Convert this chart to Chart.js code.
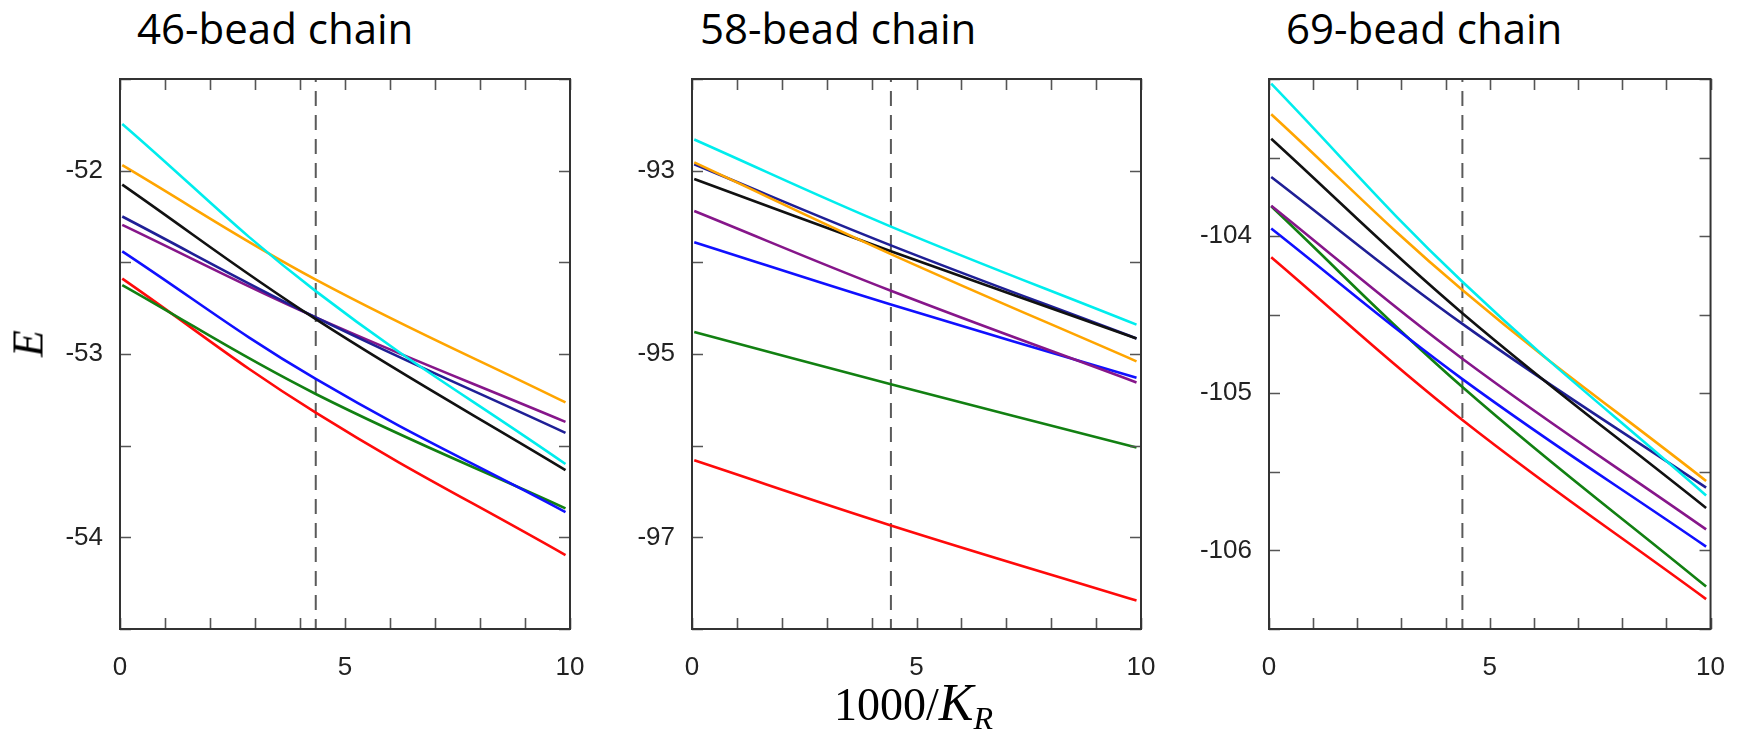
<!DOCTYPE html>
<html>
<head>
<meta charset="utf-8">
<script src="https://cdn.jsdelivr.net/npm/chart.js@4.4.0/dist/chart.umd.min.js"></script>
<style>
  body { margin: 0; background: #fff; }
  #fig { position: relative; width: 1740px; height: 734px; overflow: hidden; background: #fff; }
  #fig canvas { position: absolute; top: 0; }
  .title { position: absolute; top: -1px; font-family: "Open Sans", sans-serif; font-size: 42px; color: #000; white-space: nowrap; }
  #xlab { position: absolute; left: 834px; top: 673px; font-family: "Liberation Serif", serif; font-size: 46px; color: #000; white-space: nowrap; }
  #xlab i { font-size: 52px; }
  #xlab sub { font-size: 32px; font-style: italic; vertical-align: -9px; }
  #ylab { position: absolute; left: 6px; top: 318px; width: 44px; text-align: center; font-family: "Liberation Serif", serif; font-style: italic; font-size: 44px; transform: rotate(-90deg); }
</style>
</head>
<body>
<div id="fig">
  <div class="title" style="left:137px">46-bead chain</div>
  <div class="title" style="left:700px">58-bead chain</div>
  <div class="title" style="left:1286px">69-bead chain</div>
  <canvas id="c1" width="600" height="734" style="left:0px"></canvas>
  <canvas id="c2" width="580" height="734" style="left:600px"></canvas>
  <canvas id="c3" width="560" height="734" style="left:1180px"></canvas>
  <div id="xlab">1000/<i>K</i><sub>R</sub></div>
  <div id="ylab">E</div>
</div>
<script>
// series order: cyan, orange, black, navy, purple, blue, green, red
const seriesNames = ["cyan", "orange", "black", "navy", "purple", "blue", "green", "red"];
const seriesColors = ["#00eded", "#ffa500", "#111111", "#1f1f96", "#86168a", "#1010ff", "#128012", "#ff0a0a"];

// x positions (1000/K_R) where values were read: start, dashed line, end
const xs46 = [0.05, 4.35, 9.9];
const xs58 = [0.05, 4.43, 9.9];
const xs69 = [0.05, 4.38, 9.9];

// 46-bead chain
const e46 = {
  cyan:   [-51.745, -52.657, -53.600],
  orange: [-51.97, -52.594, -53.264],
  black:  [-52.076, -52.81, -53.633],
  navy:   [-52.25, -52.80, -53.43],
  purple: [-52.296, -52.80, -53.37],
  blue:   [-52.44, -53.136, -53.862],
  green:  [-52.624, -53.218, -53.842],
  red:    [-52.589, -53.32, -54.097]
};

// 58-bead chain
const e58 = {
  cyan:   [-92.66, -93.61, -94.68],
  orange: [-92.91, -93.91, -95.08],
  black:  [-93.09, -93.88, -94.83],
  navy:   [-92.93, -93.815, -94.83],
  purple: [-93.44, -94.31, -95.31],
  blue:   [-93.78, -94.46, -95.26],
  green:  [-94.76, -95.33, -96.02],
  red:    [-96.16, -96.87, -97.69]
};

// 69-bead chain
const e69 = {
  cyan:   [-103.03, -104.29, -105.65],
  orange: [-103.224, -104.343, -105.558],
  black:  [-103.38, -104.49, -105.73],
  navy:   [-103.624, -104.558, -105.60],
  purple: [-103.806, -104.78, -105.866],
  blue:   [-103.952, -104.91, -105.976],
  green:  [-103.81, -104.96, -106.23],
  red:    [-104.134, -105.17, -106.31]
};

// dashed marker position
const markX = [4.35, 4.43, 4.38];

// axis ranges / tick steps
const yMin = [-54.5, -98, -106.5];
const yMax = [-51.5, -92, -103];
const yStep = [0.5, 1, 0.5];

const tickFont = { family: "Liberation Sans, Arial, sans-serif", size: 26 };

// inward ticks on all four sides plus the box
const frameTicks = {
  id: "frameTicks",
  afterDatasetsDraw(chart) {
    const { ctx, chartArea: a, scales: { x, y } } = chart;
    ctx.save();
    ctx.strokeStyle = "#555";
    ctx.lineWidth = 1.6;
    ctx.beginPath();
    x.ticks.forEach((t) => {
      const px = Math.round(x.getPixelForValue(t.value)) + 0.5;
      ctx.moveTo(px, a.bottom); ctx.lineTo(px, a.bottom - 11);
      ctx.moveTo(px, a.top); ctx.lineTo(px, a.top + 11);
    });
    y.ticks.forEach((t) => {
      const py = Math.round(y.getPixelForValue(t.value)) + 0.5;
      ctx.moveTo(a.left, py); ctx.lineTo(a.left + 11, py);
      ctx.moveTo(a.right, py); ctx.lineTo(a.right - 11, py);
    });
    ctx.stroke();
    ctx.strokeStyle = "#333";
    ctx.lineWidth = 2;
    ctx.strokeRect(a.left, a.top, a.right - a.left, a.bottom - a.top);
    ctx.restore();
  }
};

function makePanel(id, xs, vals, i, leftW, rightPad, labelFn) {
  const datasets = seriesNames.map((name, k) => ({
    data: xs.map((x, j) => ({ x: x, y: vals[name][j] })),
    borderColor: seriesColors[k],
    borderWidth: 2.6,
    pointRadius: 0,
    tension: 0.4,
    fill: false
  }));
  datasets.push({
    data: [{ x: markX[i], y: yMax[i] }, { x: markX[i], y: yMin[i] }],
    borderColor: "#5a5a5a",
    borderWidth: 2,
    borderDash: [15, 9],
    borderDashOffset: -12,
    pointRadius: 0
  });

  new Chart(document.getElementById(id), {
    type: "line",
    data: { datasets },
    plugins: [frameTicks],
    options: {
      responsive: false,
      animation: false,
      devicePixelRatio: 1,
      layout: { padding: { top: 79, right: rightPad, left: 0, bottom: 0 } },
      plugins: { legend: { display: false }, tooltip: { enabled: false } },
      scales: {
        x: {
          type: "linear",
          min: 0,
          max: 10,
          grid: { display: false },
          border: { display: false },
          ticks: {
            stepSize: 1,
            autoSkip: false,
            maxRotation: 0,
            padding: 15,
            color: "#222",
            font: tickFont,
            callback: (v) => (v % 5 === 0 ? v : "")
          },
          afterFit: (s) => { s.height = 105; }
        },
        y: {
          type: "linear",
          min: yMin[i],
          max: yMax[i],
          grid: { display: false },
          border: { display: false },
          ticks: {
            stepSize: yStep[i],
            autoSkip: false,
            padding: 9,
            color: "#222",
            font: tickFont,
            callback: (v) => (v > yMin[i] && v < yMax[i] && labelFn(v) ? v : "")
          },
          afterFit: (s) => { s.width = leftW; }
        }
      }
    }
  });
}

const intLabels = (v) => Number.isInteger(v);
const oddLabels = (v) => Math.abs(v) % 2 === 1;

makePanel("c1", xs46, e46, 0, 120, 30, intLabels);
makePanel("c2", xs58, e58, 1, 92, 39, oddLabels);
makePanel("c3", xs69, e69, 2, 89, 21, intLabels);
</script>
</body>
</html>
